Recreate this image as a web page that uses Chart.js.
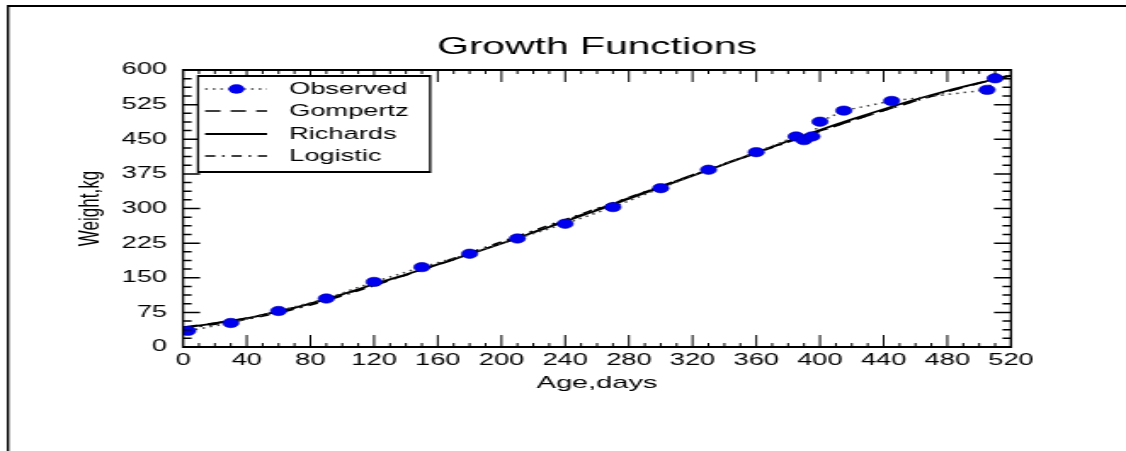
<!DOCTYPE html>
<html>
<head>
<meta charset="utf-8">
<script src="https://cdn.jsdelivr.net/npm/chart.js@4.4.1/dist/chart.umd.min.js"></script>
<style>
    html, body { margin: 0; padding: 0; background: #fff; overflow: hidden; }
    /* the source picture is stretched sideways, so the chart is drawn narrow and scaled */
    #wrap { width: 662px; height: 451px; transform: scaleX(1.7009); transform-origin: 0 0; }
</style>
</head>
<body>
<div id="wrap"><canvas id="chart" width="662" height="451"></canvas></div>
<script>
const observedAges = [ 3, 30, 60, 90, 120, 150, 180, 210, 240, 270, 300, 330, 360, 385, 390, 395, 400, 415, 445, 505, 510 ];
const observedWeights = [ 35, 52, 78, 105, 141, 173, 202, 235, 267, 303, 344, 384, 422, 456, 448, 456, 488, 512, 533, 557, 582 ];

const curveAges = [ 0, 20, 40, 60, 80, 100, 120, 140, 160, 180, 200, 220, 240, 260, 280, 300, 320, 340, 360, 380, 400, 420, 440, 460, 480, 500, 520 ];
const gompertz = [ 43, 52, 63, 77, 94, 113, 134, 156, 178, 201, 225, 249, 274, 298, 323, 348, 373, 397, 421, 445, 468, 490, 512, 533, 553, 571, 588 ];
const richards = [ 42, 51, 62, 77, 94, 114, 136, 157, 179, 201, 224, 248, 272, 296, 321, 346, 371, 396, 421, 446, 470, 493, 515, 536, 555, 572, 588 ];
const logistic = [ 40, 49, 60, 74, 91, 111, 133, 156, 180, 204, 228, 252, 276, 300, 324, 348, 372, 396, 420, 444, 467, 490, 512, 533, 553, 572, 590 ];

const xTickLabels = [ 0, 40, 80, 120, 160, 200, 240, 280, 320, 360, 400, 440, 480, 520 ];
const yTickLabels = [ 0, 75, 150, 225, 300, 375, 450, 525, 600 ];

const FONT = "'Liberation Sans', Arial, sans-serif";

function pts( xs, ys )
{
    return xs.map( ( v, i ) => ( { x: v, y: ys[ i ] } ) );
}

// outer border, plot frame and inward ticks
const frameTicks = {
    id: 'frameTicks',
    beforeDraw( chart )
    {
        const ctx = chart.ctx;
        ctx.save();
        ctx.fillStyle = '#fff';
        ctx.fillRect( 0, 0, chart.width, chart.height );
        ctx.strokeStyle = '#000';
        ctx.lineWidth = 2;
        ctx.beginPath();
        ctx.moveTo( 4.7, 6 );
        ctx.lineTo( chart.width, 6 );
        ctx.stroke();
        ctx.lineWidth = 1.4;
        ctx.beginPath();
        ctx.moveTo( 4.7, 5 );
        ctx.lineTo( 4.7, chart.height );
        ctx.stroke();
        ctx.restore();
    },
    afterDatasetsDraw( chart )
    {
        const { ctx, chartArea: a, scales: { x, y } } = chart;
        ctx.save();
        ctx.strokeStyle = '#000';
        ctx.lineWidth = 1;
        ctx.beginPath();
        for ( let v = 0; v <= 520; v += 10 ) {
            const px = x.getPixelForValue( v );
            const len = v % 40 === 0 ? 12 : 4;
            ctx.moveTo( px, a.bottom );
            ctx.lineTo( px, a.bottom - len );
            ctx.moveTo( px, a.top );
            ctx.lineTo( px, a.top + len );
        }
        ctx.stroke();
        ctx.lineWidth = 1.5;
        ctx.beginPath();
        for ( let i = 0; i <= 32; i++ ) {
            const py = y.getPixelForValue( i * 18.75 );
            const len = i % 4 === 0 ? 10 : 5;
            ctx.moveTo( a.left, py );
            ctx.lineTo( a.left + len, py );
            ctx.moveTo( a.right, py );
            ctx.lineTo( a.right - len, py );
        }
        ctx.stroke();
        ctx.lineWidth = 2;
        ctx.beginPath();
        ctx.moveTo( a.left, a.top );
        ctx.lineTo( a.right, a.top );
        ctx.moveTo( a.left, a.bottom );
        ctx.lineTo( a.right, a.bottom );
        ctx.stroke();
        ctx.lineWidth = 1.3;
        ctx.beginPath();
        ctx.moveTo( a.left, a.top - 1 );
        ctx.lineTo( a.left, a.bottom + 1 );
        ctx.moveTo( a.right, a.top - 1 );
        ctx.lineTo( a.right, a.bottom + 1 );
        ctx.stroke();
        ctx.restore();
    }
};

// boxed legend in the upper left of the plot
const boxLegend = {
    id: 'boxLegend',
    afterDraw( chart )
    {
        const ctx = chart.ctx;
        const rows = [ 89, 111, 134, 156 ];
        ctx.save();
        ctx.fillStyle = '#fff';
        ctx.fillRect( 116.4, 76, 136.5, 96 );
        ctx.strokeStyle = '#000';
        ctx.lineWidth = 2;
        ctx.beginPath();
        ctx.moveTo( 116.4, 76 ); ctx.lineTo( 252.9, 76 );
        ctx.moveTo( 116.4, 172 ); ctx.lineTo( 252.9, 172 );
        ctx.stroke();
        ctx.lineWidth = 1.3;
        ctx.beginPath();
        ctx.moveTo( 116.4, 75 ); ctx.lineTo( 116.4, 173 );
        ctx.moveTo( 252.9, 75 ); ctx.lineTo( 252.9, 173 );
        ctx.stroke();

        chart.data.datasets.forEach( ( ds, i ) =>
        {
            const yy = rows[ i ];
            ctx.strokeStyle = ds.borderColor;
            ctx.lineWidth = ds.borderWidth;
            ctx.setLineDash( ds.borderDash || [] );
            ctx.beginPath();
            ctx.moveTo( 120.6, yy );
            ctx.lineTo( 157, yy );
            ctx.stroke();
            ctx.setLineDash( [] );
            if ( ds.pointRadius > 0 ) {
                ctx.fillStyle = ds.pointBackgroundColor;
                ctx.beginPath();
                ctx.arc( 139, yy, ds.pointRadius, 0, Math.PI * 2 );
                ctx.fill();
            }
            ctx.fillStyle = '#000';
            ctx.font = '16px ' + FONT;
            ctx.textBaseline = 'middle';
            ctx.fillText( ds.label, 170, yy + 1 );
        } );
        ctx.restore();
    }
};

document.addEventListener( 'DOMContentLoaded', function ()
{
    const ctx = document.getElementById( 'chart' );
    new Chart( ctx, {
        type: 'scatter',
        data: {
            datasets: [ {
                label: 'Observed',
                data: pts( observedAges, observedWeights ),
                showLine: true,
                borderColor: '#444',
                borderWidth: 1.5,
                borderDash: [ 1.5, 3 ],
                pointRadius: 4.7,
                pointBackgroundColor: '#0000ee',
                pointBorderColor: '#0000b0',
                pointBorderWidth: 0.6,
                order: 0
            }, {
                label: 'Gompertz',
                data: pts( curveAges, gompertz ),
                showLine: true,
                borderColor: '#000',
                borderWidth: 1.5,
                borderDash: [ 9, 6 ],
                pointRadius: 0,
                cubicInterpolationMode: 'monotone',
                order: 1
            }, {
                label: 'Richards',
                data: pts( curveAges, richards ),
                showLine: true,
                borderColor: '#000',
                borderWidth: 1.8,
                pointRadius: 0,
                cubicInterpolationMode: 'monotone',
                order: 1
            }, {
                label: 'Logistic',
                data: pts( curveAges, logistic ),
                showLine: true,
                borderColor: '#000',
                borderWidth: 1.5,
                borderDash: [ 6, 4, 1.5, 4 ],
                pointRadius: 0,
                cubicInterpolationMode: 'monotone',
                order: 1
            } ]
        },
        options: {
            responsive: false,
            animation: false,
            events: [],
            layout: { padding: { left: 0, right: 67.6, top: 0, bottom: 0 } },
            plugins: {
                legend: { display: false },
                tooltip: { enabled: false },
                title: {
                    display: true,
                    fullSize: false,
                    text: 'Growth Functions',
                    color: '#000',
                    font: { family: FONT, size: 24, weight: 'normal', lineHeight: 1.2 },
                    padding: { top: 32.6, bottom: 8.6 }
                }
            },
            scales: {
                x: {
                    type: 'linear',
                    min: 0,
                    max: 520,
                    afterFit: ( s ) => { s.height = 104; },
                    afterBuildTicks: ( s ) => { s.ticks = xTickLabels.map( v => ( { value: v } ) ); },
                    grid: { display: false, drawTicks: false },
                    border: { display: false },
                    ticks: {
                        autoSkip: false,
                        maxRotation: 0,
                        padding: 4,
                        color: '#000',
                        font: { family: FONT, size: 16 }
                    },
                    title: {
                        display: true,
                        text: 'Age,days',
                        color: '#000',
                        font: { family: FONT, size: 17, lineHeight: 1.2 },
                        padding: { top: 0, bottom: 57.8 }
                    }
                },
                y: {
                    type: 'linear',
                    min: 0,
                    max: 600,
                    afterFit: ( s ) => { s.width = 107.6; },
                    afterBuildTicks: ( s ) => { s.ticks = yTickLabels.map( v => ( { value: v } ) ); },
                    grid: { display: false, drawTicks: false },
                    border: { display: false },
                    ticks: {
                        autoSkip: false,
                        padding: 9.4,
                        color: '#000',
                        font: { family: FONT, size: 16 }
                    },
                    title: {
                        display: true,
                        text: 'Weight,kg',
                        color: '#000',
                        font: { family: FONT, size: 17, lineHeight: 1.2 },
                        padding: { top: 42.7, bottom: 0 }
                    }
                }
            }
        },
        plugins: [ frameTicks, boxLegend ]
    } );
} );
</script>
</body>
</html>
